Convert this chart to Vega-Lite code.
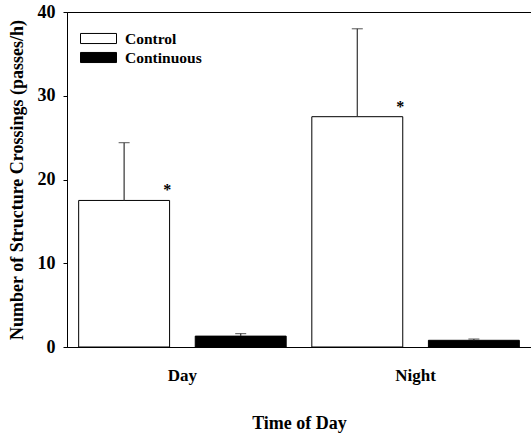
{
  "$schema": "https://vega.github.io/schema/vega-lite/v6.json",
  "autosize": "none",
  "padding": {"left": 67, "top": 12, "right": 0, "bottom": 93},
  "width": 464,
  "height": 335,
  "background": "white",
  "config": {
    "view": {"stroke": "black", "strokeWidth": 1},
    "font": "Liberation Serif"
  },
  "data": {
    "values": [
      {"time": "Day", "group": "Control", "value": 17.5, "upper": 24.4, "star": "*"},
      {"time": "Day", "group": "Continuous", "value": 1.3, "upper": 1.6, "star": ""},
      {"time": "Night", "group": "Control", "value": 27.5, "upper": 38.0, "star": "*"},
      {"time": "Night", "group": "Continuous", "value": 0.8, "upper": 0.95, "star": ""}
    ]
  },
  "encoding": {
    "x": {
      "field": "time", "type": "nominal", "sort": ["Day", "Night"],
      "scale": {"paddingInner": 0.11, "paddingOuter": 0.05},
      "axis": {
        "title": "Time of Day", "titleFont": "Liberation Serif", "titleFontSize": 18, "titleFontWeight": "bold",
        "titleColor": "black", "titlePadding": 31,
        "labelAngle": 0, "labelFont": "Liberation Serif", "labelFontSize": 17, "labelFontWeight": "bold",
        "labelColor": "black", "labelPadding": 20, "ticks": false, "domainColor": "black", "domainWidth": 1.2
      }
    },
    "xOffset": {
      "field": "group", "type": "nominal", "sort": ["Control", "Continuous"],
      "scale": {"paddingInner": 0.22, "paddingOuter": 0}
    }
  },
  "layer": [
    {
      "mark": {"type": "bar", "stroke": "black", "strokeWidth": 1},
      "encoding": {
        "y": {
          "field": "value", "type": "quantitative",
          "scale": {"domain": [0, 40], "nice": false},
          "axis": {
            "title": "Number of Structure Crossings (passes/h)", "titleFont": "Liberation Serif",
            "titleFontSize": 18, "titleFontWeight": "bold", "titleColor": "black", "titlePadding": 11,
            "values": [0, 10, 20, 30, 40], "grid": false, "tickSize": 4, "tickColor": "black",
            "domainColor": "black", "labelFont": "Liberation Serif", "labelFontSize": 18,
            "labelFontWeight": "bold", "labelColor": "black", "labelPadding": 8
          }
        },
        "fill": {
          "field": "group", "type": "nominal", "sort": ["Control", "Continuous"],
          "scale": {"domain": ["Control", "Continuous"], "range": ["white", "black"]},
          "legend": {
            "title": null, "orient": "none", "legendX": 22, "legendY": 17,
            "symbolType": "M-2,-0.56H2V0.56H-2Z", "symbolSize": 324, "symbolStrokeColor": "black",
            "symbolStrokeWidth": 1, "labelFont": "Liberation Serif", "labelFontSize": 15.5,
            "labelFontWeight": "bold", "labelColor": "black", "labelOffset": 17, "rowPadding": 1,
            "symbolOpacity": 1
          }
        }
      }
    },
    {
      "mark": {"type": "rule", "color": "#333333", "strokeWidth": 1.2},
      "encoding": {
        "y": {"field": "value", "type": "quantitative"},
        "y2": {"field": "upper"}
      }
    },
    {
      "mark": {"type": "tick", "color": "#333333", "thickness": 1.2, "size": 11},
      "encoding": {
        "y": {"field": "upper", "type": "quantitative"}
      }
    },
    {
      "mark": {"type": "text", "fontSize": 16, "fontWeight": "bold", "color": "black", "dx": 43, "dy": -10},
      "encoding": {
        "y": {"field": "value", "type": "quantitative"},
        "text": {"field": "star"}
      }
    }
  ]
}
